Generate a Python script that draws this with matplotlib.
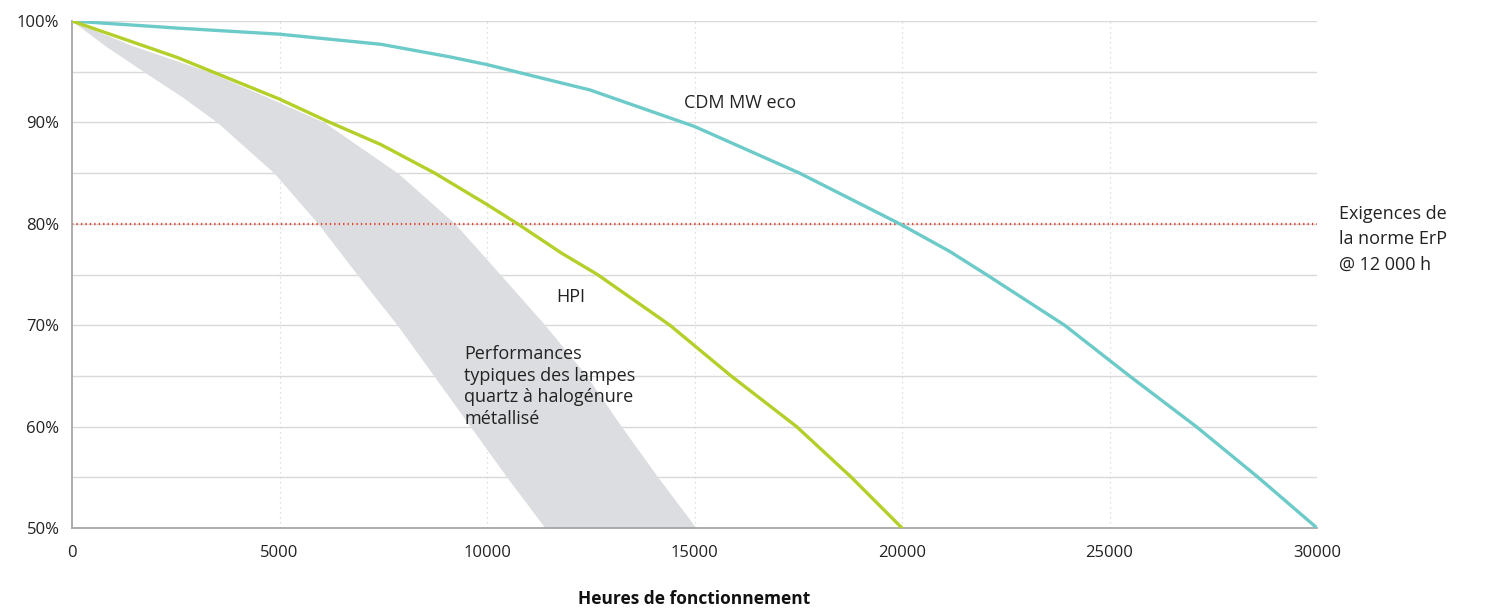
import matplotlib
matplotlib.use("Agg")
import matplotlib.pyplot as plt
import numpy as np

plt.rcParams['font.family'] = ['Open Sans', 'DejaVu Sans']

# Data (hours, % lumen maintenance)
cdm_hours = [0, 2540, 5000, 7450, 9120, 10000, 12480, 15000, 17530, 19944, 21140,
             22030, 23917, 25480, 27090, 28580, 30000]
cdm_vals  = [100, 99.3, 98.7, 97.7, 96.45, 95.7, 93.2, 89.6, 85.0, 80.0, 77.3,
             75.0, 70.0, 65.0, 60.0, 55.0, 50.0]

hpi_hours = [0, 2540, 5000, 6160, 7450, 8740, 10000, 10737, 11800, 12660, 14407,
             15880, 17460, 18780, 20000]
hpi_vals  = [100, 96.4, 92.3, 90.1, 87.8, 85.0, 81.9, 80.0, 77.1, 75.0, 70.0,
             65.0, 60.0, 55.0, 50.0]

band_levels = [100, 97.5, 95, 92.5, 90, 85, 80, 75, 70, 65, 60, 55, 50]
band_left   = [0, 820, 1730, 2660, 3500, 4870, 5930, 6870, 7840, 8720, 9600, 10480, 11400]
band_right  = [0, 1500, 3300, 4700, 6080, 7850, 9230, 10320, 11400, 12400, 13240, 14120, 15040]

erp_level = 80

x_ticks = [0, 5000, 10000, 15000, 20000, 25000, 30000]
y_ticks = [50, 60, 70, 80, 90, 100]
y_tick_labels = ['50%', '60%', '70%', '80%', '90%', '100%']

fig = plt.figure(figsize=(14.94, 6.10), dpi=100)
ax = fig.add_axes([72/1494, 1-528/610, (1317-72)/1494, (528-21)/610])

ax.set_xlim(0, 30000)
ax.set_ylim(50, 100)

# grid
for yv in np.arange(55, 101, 5):
    ax.axhline(yv, color='#d9d9d9', lw=1.0, zorder=0)
for xv in x_ticks[1:-1]:
    ax.axvline(xv, color='#d5d5d5', lw=0.9, ls=(0, (1, 3)), zorder=0)

# band
ax.fill_betweenx(band_levels, band_left, band_right, color='#dcdde0', lw=0, zorder=1)

# lines
ax.plot(cdm_hours, cdm_vals, color='#6ccbc9', lw=2.4, zorder=3,
        solid_capstyle='round', solid_joinstyle='round')
ax.plot(hpi_hours, hpi_vals, color='#b5cf2a', lw=2.4, zorder=4,
        solid_capstyle='round', solid_joinstyle='round')
ax.axhline(erp_level, color='#e8412c', lw=1.6, ls=(0, (0.6, 1.4)), zorder=2)

for s in ['top', 'right']:
    ax.spines[s].set_visible(False)
for s in ['left', 'bottom']:
    ax.spines[s].set_color('#a0a0a0')
    ax.spines[s].set_linewidth(1.2)

ax.set_xticks(x_ticks)
ax.set_xticklabels([str(v) for v in x_ticks])
ax.set_yticks(y_ticks)
ax.set_yticklabels(y_tick_labels)
ax.tick_params(length=0, labelsize=12, colors='#222222')
ax.tick_params(axis='x', pad=12)
ax.tick_params(axis='y', pad=9)

ax.set_xlabel('Heures de fonctionnement', fontsize=12.5, fontweight='bold', color='#111111', labelpad=21)

txt = dict(fontsize=13, color='#222222')
ax.text(16096, 91.9, 'CDM MW eco', ha='center', va='center', **txt)
ax.text(12024, 72.8, 'HPI', ha='center', va='center', **txt)
ax.text(9446, 68.0, 'Performances\ntypiques des lampes\nquartz à halogénure\nmétallisé',
        ha='left', va='top', linespacing=1.25, **txt)
ax.text(30530, 81.9, 'Exigences de\nla norme ErP\n@ 12 000 h',
        ha='left', va='top', linespacing=1.55, clip_on=False, **txt)

fig.savefig('out.png', dpi=100)
